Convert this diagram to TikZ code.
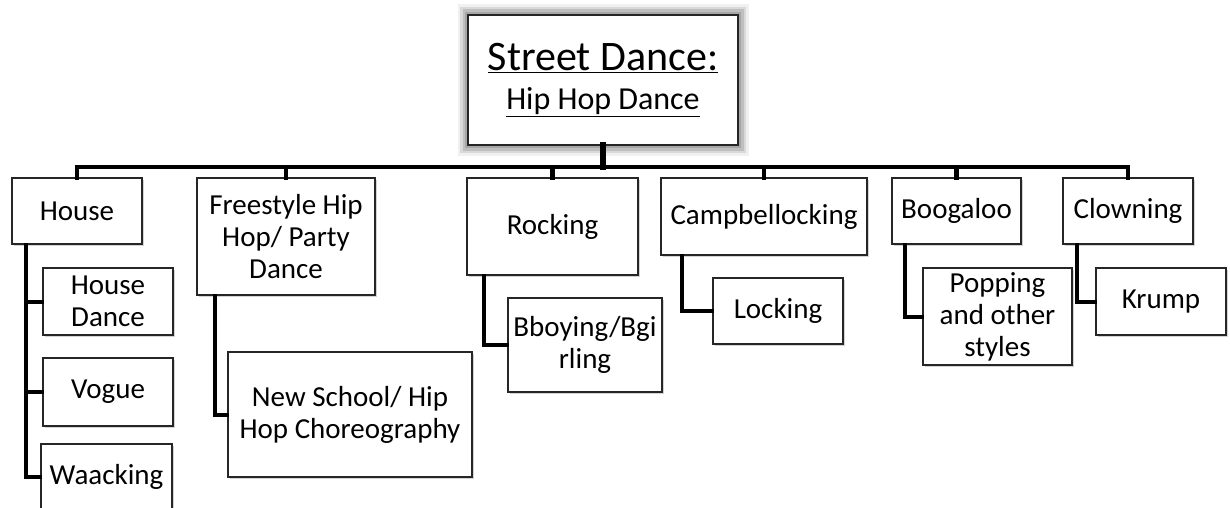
\documentclass[tikz,border=0pt]{standalone}
\usepackage{fontspec}
\setmainfont{Carlito}
\usepackage{tikz}
\usetikzlibrary{shadows, positioning}

\begin{document}
\begin{tikzpicture}[x=1pt,y=-1pt,font=\fontsize{29}{32}\selectfont,line cap=rect]

	\tikzset{node box/.style={draw=black!85, line width=1.3pt, fill=white,
			align=center, inner sep=2pt,
			drop shadow={shadow xshift=2pt, shadow yshift=-2pt, opacity=0.35}}}
	\tikzset{node root/.style={draw=black!85, line width=1.3pt, fill=white,
			align=center, inner sep=2pt,
			preaction={draw=gray!12, line width=21pt},
			preaction={draw=gray!30, line width=16pt},
			preaction={draw=gray!50, line width=11pt},
			preaction={draw=gray!70, line width=6pt}}}
	\tikzset{link/.style={draw=black, line width=4.5pt}}

	\useasboundingbox (0,0) rectangle (1230,508);

	\node[node root, minimum width=270pt, minimum height=130pt] (root) at (603,80)
		{{\fontsize{42}{46}\selectfont\underline{Street Dance:}}\\[7pt]
		 {\fontsize{32}{36}\selectfont\underline{Hip Hop Dance}}};

	\node[node box, minimum width=130pt, minimum height=66pt] (house) at (77,211) {House};
	\node[node box, minimum width=178pt, minimum height=117pt] (free) at (286,236.5) {Freestyle Hip\\Hop/ Party\\Dance};
	\node[node box, minimum width=171pt, minimum height=97pt] (rock) at (552.5,226.5) {Rocking};
	\node[node box, minimum width=206pt, minimum height=77pt] (camp) at (764,216.5) {Campbellocking};
	\node[node box, minimum width=129pt, minimum height=66pt] (boog) at (956.5,211) {Boogaloo};
	\node[node box, minimum width=130pt, minimum height=66pt] (clown) at (1128,211) {Clowning};

	\node[node box, minimum width=130pt, minimum height=67pt] (hdance) at (108,301.5) {House\\Dance};
	\node[node box, minimum width=130pt, minimum height=68pt] (vogue) at (108,392) {Vogue};
	\node[node box, minimum width=131pt, minimum height=66pt] (waack) at (106.5,477) {Waacking};
	\node[node box, minimum width=244pt, minimum height=125pt] (newsch) at (350,414.5) {New School/ Hip\\Hop Choreography};
	\node[node box, minimum width=154pt, minimum height=94pt] (bboy) at (585,345) {Bboying/Bgi\\rling};
	\node[node box, minimum width=130pt, minimum height=66pt] (lock) at (778,311) {Locking};
	\node[node box, minimum width=149pt, minimum height=97pt] (pop) at (997.5,316.5) {Popping\\and other\\styles};
	\node[node box, minimum width=130pt, minimum height=67pt] (krump) at (1161,301.5) {Krump};

	\coordinate (bus) at (603,167);

	\draw[link, line width=6.5pt] (root.south) -- (bus);
	\draw[link] (house.north) |- (bus) -| (clown.north);
	\foreach \n in {free, rock, camp, boog} {
		\draw[link] (\n.north) -- (\n.north |- bus);
	};

	\draw[link, line width=4pt] ([xshift=15pt]house.south west) |- (waack.west);
	\foreach \c in {hdance, vogue} {
		\draw[link, line width=4pt] ([xshift=15pt]house.south west |- \c.west) -- (\c.west);
	};
	\draw[link, line width=4pt] ([xshift=19pt]free.south west) |- (newsch.west);
	\draw[link, line width=4pt] ([xshift=18pt]rock.south west) |- (bboy.west);
	\draw[link, line width=4pt] ([xshift=22pt]camp.south west) |- (lock.west);
	\draw[link, line width=4pt] ([xshift=14pt]boog.south west) |- (pop.west);
	\draw[link, line width=4pt] ([xshift=15pt]clown.south west) |- (krump.west);

\end{tikzpicture}
\end{document}
